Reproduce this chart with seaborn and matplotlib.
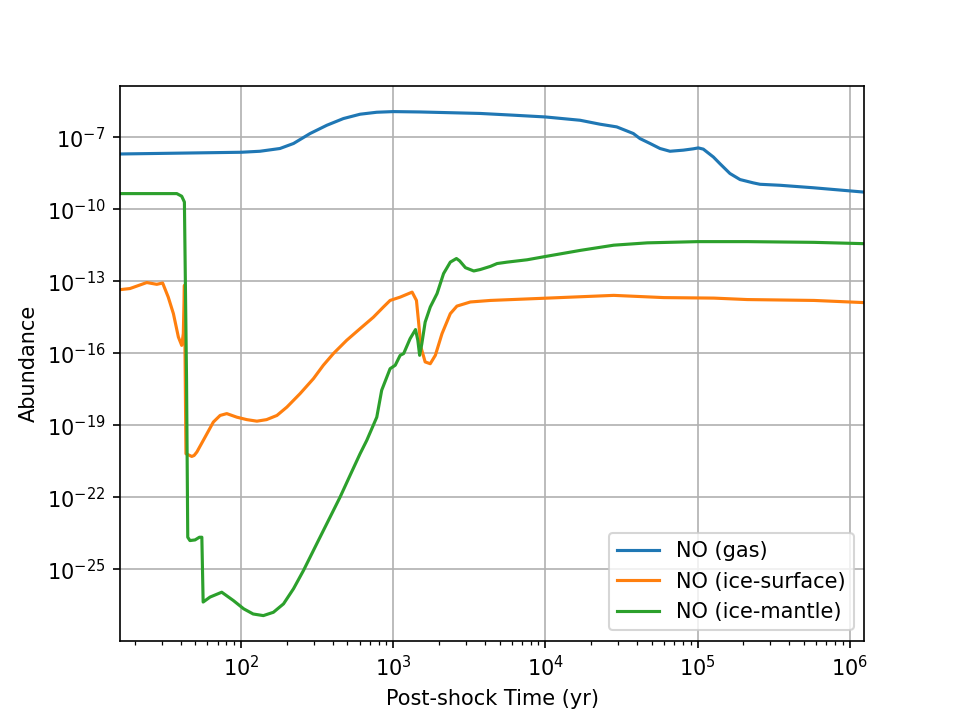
import numpy as np
import pandas as pd
import seaborn as sns
import matplotlib
matplotlib.use("Agg")
import matplotlib.pyplot as plt

# NO (gas)
t_gas = [16.0, 100, 133, 180, 221, 284, 366, 470, 605, 779, 1000, 1500, 3720,
         6150, 10000, 16900, 22800, 29400, 37800, 41800, 48700, 56600, 65800,
         80500, 93700, 101000, 109000, 127000, 140000, 163000, 190000, 232000,
         257000, 348000, 573000, 1.24e6]
x_gas = [2.01e-8, 2.37e-8, 2.61e-8, 3.4e-8, 5.5e-8, 1.43e-7, 3.16e-7, 6.0e-7,
         9.1e-7, 1.10e-6, 1.17e-6, 1.13e-6, 9.8e-7, 8.3e-7, 7.0e-7, 5.1e-7,
         3.5e-7, 2.7e-7, 1.43e-7, 8.8e-8, 5.5e-8, 3.4e-8, 2.61e-8, 2.9e-8,
         3.3e-8, 3.6e-8, 3.2e-8, 1.5e-8, 8.0e-9, 3.1e-9, 1.73e-9, 1.26e-9,
         1.1e-9, 1.0e-9, 7.9e-10, 5.2e-10]

# NO (ice-surface)
t_surf = [16.0, 18.6, 24.0, 27.9, 30.5, 33.2, 35.9, 38.7, 40.7, 41.7, 42.4,
          43.4, 47.4, 49.1, 51.2, 57.9, 65.7, 72.8, 80.5, 93.7, 109, 127, 147,
          172, 200, 244, 299, 347, 404, 494, 605, 740, 861, 953, 1110, 1330,
          1420, 1470, 1520, 1620, 1750, 1890, 2090, 2370, 2620, 3210, 4350,
          10300, 28100, 60000, 128000, 212000, 582000, 1.24e6]
x_surf = [4.5e-14, 5.0e-14, 8.9e-14, 7.5e-14, 8.5e-14, 2.2e-14, 4.5e-15, 4.8e-16,
          2.15e-16, 6.6e-16, 6.8e-14, 6.6e-21, 5.1e-21, 5.6e-21, 7.8e-21,
          3.2e-20, 1.38e-19, 2.6e-19, 3.1e-19, 2.2e-19, 1.74e-19, 1.5e-19,
          1.74e-19, 2.6e-19, 5.8e-19, 2.1e-18, 8.9e-18, 3.2e-17, 9.8e-17,
          3.5e-16, 1.07e-15, 3.2e-15, 8.5e-15, 1.6e-14, 2.2e-14, 3.55e-14,
          1.6e-14, 1.74e-15, 1.8e-16, 4.4e-17, 3.7e-17, 8.3e-17, 6.6e-16,
          4.5e-15, 9.3e-15, 1.38e-14, 1.6e-14, 2.0e-14, 2.6e-14, 2.1e-14,
          2.0e-14, 1.74e-14, 1.6e-14, 1.3e-14]

# NO (ice-mantle)
t_mant = [16.0, 37.8, 40.7, 42.4, 43.8, 44.6, 46.1, 49.8, 53.2, 55.2, 56.3,
          62.5, 74.6, 88.9, 104, 120, 140, 163, 190, 221, 257, 314, 384, 447,
          520, 605, 670, 779, 839, 953, 1030, 1110, 1170, 1290, 1400, 1450,
          1490, 1540, 1620, 1750, 1940, 2140, 2370, 2600, 2730, 2980, 3380,
          3730, 4350, 4810, 5600, 7580, 10300, 17000, 28100, 46700, 100000,
          212000, 582000, 1.24e6]
x_mant = [4.5e-10, 4.5e-10, 3.5e-10, 2.0e-10, 7.5e-18, 2.2e-24, 1.6e-24, 1.7e-24,
          2.2e-24, 2.2e-24, 4.4e-27, 7.1e-27, 1.13e-26, 5.1e-27, 2.3e-27,
          1.4e-27, 1.2e-27, 1.65e-27, 3.7e-27, 1.58e-26, 9.1e-26, 1.17e-24,
          1.5e-23, 1.03e-22, 8.3e-22, 6.6e-21, 2.4e-20, 2.2e-19, 2.9e-18,
          2.3e-17, 3.2e-17, 8.3e-17, 9.8e-17, 4.1e-16, 9.8e-16, 3.5e-16,
          8.3e-17, 2.5e-16, 2.0e-15, 8.5e-15, 3.1e-14, 2.1e-13, 6.3e-13,
          8.9e-13, 7.1e-13, 3.7e-13, 2.7e-13, 3.1e-13, 4.2e-13, 5.5e-13,
          6.3e-13, 7.9e-13, 1.12e-12, 1.95e-12, 3.2e-12, 4.0e-12, 4.5e-12,
          4.5e-12, 4.2e-12, 3.7e-12]

labels = ["NO (gas)", "NO (ice-surface)", "NO (ice-mantle)"]

data = pd.concat([
    pd.DataFrame({"time": t_gas, "abundance": x_gas, "species": labels[0]}),
    pd.DataFrame({"time": t_surf, "abundance": x_surf, "species": labels[1]}),
    pd.DataFrame({"time": t_mant, "abundance": x_mant, "species": labels[2]}),
]).reset_index(drop=True)

fig = plt.figure(figsize=(6.4, 4.8), dpi=150)
ax = sns.lineplot(x="time", y="abundance", hue="species", data=data,
                  palette="tab10", sort=False, estimator=None, linewidth=1.5)
ax.set_xscale("log")
ax.set_yscale("log")
ax.set_xlim(16, 1.24e6)
ax.grid(True)
ax.set_xlabel("Post-shock Time (yr)")
ax.set_ylabel("Abundance")
handles, lbls = ax.get_legend_handles_labels()
ax.legend(handles, lbls, loc="lower right")
plt.savefig("out.png", dpi=150)
